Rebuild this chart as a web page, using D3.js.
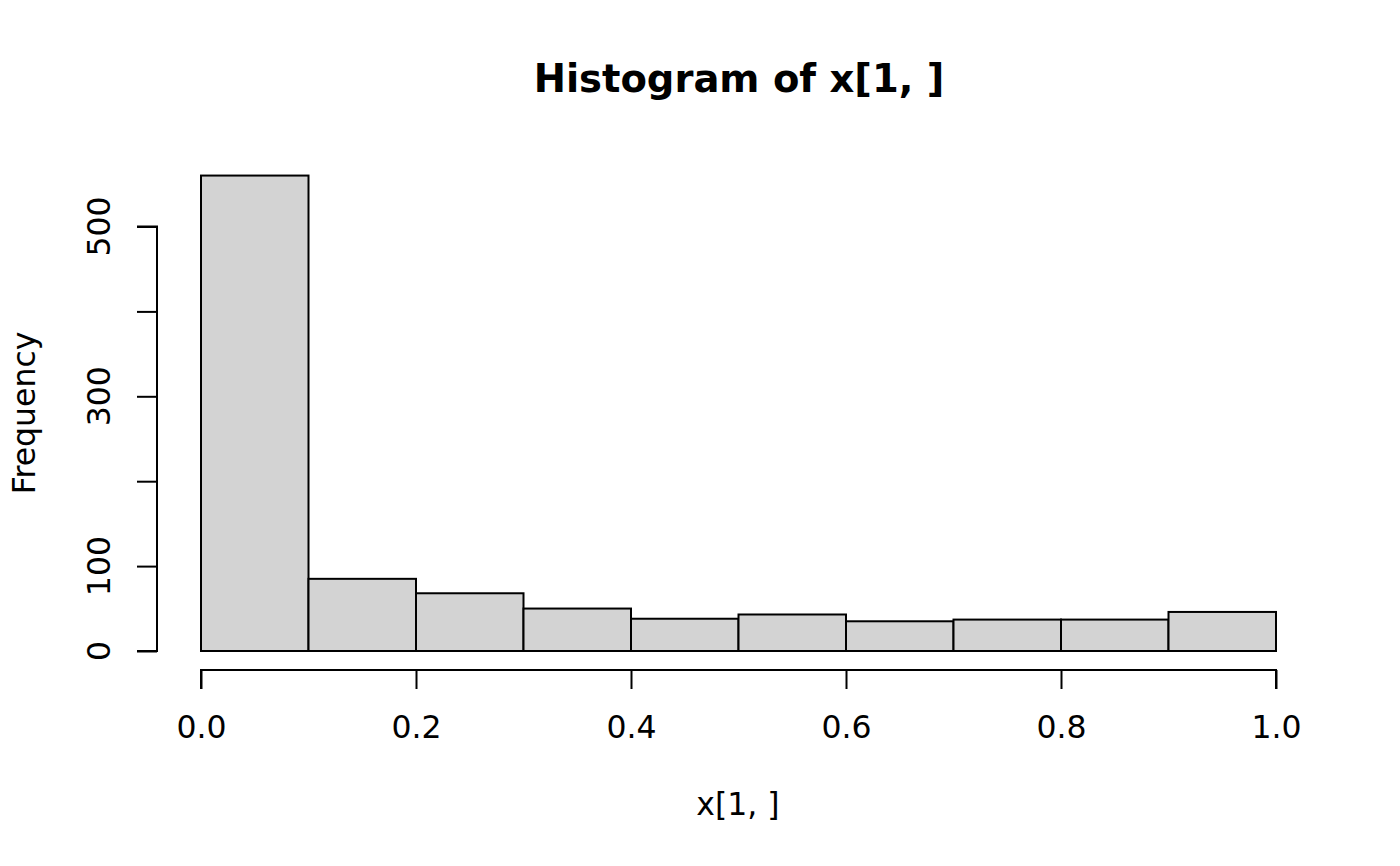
<!DOCTYPE html>
<html>
<head>
<meta charset="utf-8">
<script src="https://cdn.jsdelivr.net/npm/d3@7"></script>
<style>
  body { margin: 0; background: #fff; }
  text { font-family: "DejaVu Sans", sans-serif; fill: #000; }
</style>
</head>
<body>
<svg id="chart" width="1400" height="866"></svg>
<script>
// histogram bins (x[1, ]) and their counts
const binEdges = [0, 0.1, 0.2, 0.3, 0.4, 0.5, 0.6, 0.7, 0.8, 0.9, 1.0];
const counts = [560, 85, 68, 50, 38, 43, 35, 37, 37, 46];
const xTicks = [0, 0.2, 0.4, 0.6, 0.8, 1.0];
const yTicks = [0, 100, 200, 300, 400, 500];
const yLabelTicks = [0, 100, 300, 500];

const svg = d3.select("#chart");
const lw = 2;
const fs = 31.5;

const x = d3.scaleLinear().domain([0, 1]).range([201, 1276]);
const y = d3.scaleLinear().domain([0, 500]).range([651, 226.5]);

const bins = counts.map((c, i) => ({ x0: binEdges[i], x1: binEdges[i + 1], count: c }));

svg.append("g")
  .selectAll("rect")
  .data(bins)
  .join("rect")
  .attr("x", (d) => x(d.x0))
  .attr("y", (d) => y(d.count))
  .attr("width", (d) => x(d.x1) - x(d.x0))
  .attr("height", (d) => y(0) - y(d.count))
  .attr("fill", "#d3d3d3")
  .attr("stroke", "#000")
  .attr("stroke-width", lw);

// x axis, R style: line from first to last tick, offset below the plot
const xAxis = svg.append("g")
  .attr("transform", "translate(0,670)")
  .call(d3.axisBottom(x).tickValues(xTicks).tickSize(19)
    .tickFormat(d3.format(".1f")));
xAxis.select(".domain").attr("d", `M${x(0)},19V0H${x(1)}V19`).attr("stroke-width", lw);
xAxis.selectAll(".tick line").attr("stroke-width", lw);
xAxis.selectAll("text")
  .attr("y", 68)
  .attr("dy", 0)
  .attr("font-size", fs)
  .attr("font-family", "DejaVu Sans, sans-serif")
  .attr("fill", "#000");

// y axis
const yAxis = svg.append("g")
  .attr("transform", "translate(157,0)")
  .call(d3.axisLeft(y).tickValues(yTicks).tickSize(20).tickFormat(""));
yAxis.select(".domain").attr("d", `M-20,${y(0)}H0V${y(500)}H-20`).attr("stroke-width", lw);
yAxis.selectAll(".tick line").attr("stroke-width", lw);

svg.append("g")
  .selectAll("text")
  .data(yLabelTicks)
  .join("text")
  .attr("transform", (d) => `translate(110,${y(d)}) rotate(-90)`)
  .attr("text-anchor", "middle")
  .attr("font-size", fs)
  .text((d) => d);

svg.append("text")
  .attr("x", 739)
  .attr("y", 92)
  .attr("text-anchor", "middle")
  .attr("font-size", 38.5)
  .attr("font-weight", "bold")
  .text("Histogram of x[1, ]");

svg.append("text")
  .attr("x", 738)
  .attr("y", 815)
  .attr("text-anchor", "middle")
  .attr("font-size", fs)
  .text("x[1, ]");

svg.append("text")
  .attr("transform", "translate(35,413) rotate(-90)")
  .attr("text-anchor", "middle")
  .attr("font-size", fs)
  .text("Frequency");
</script>
</body>
</html>
